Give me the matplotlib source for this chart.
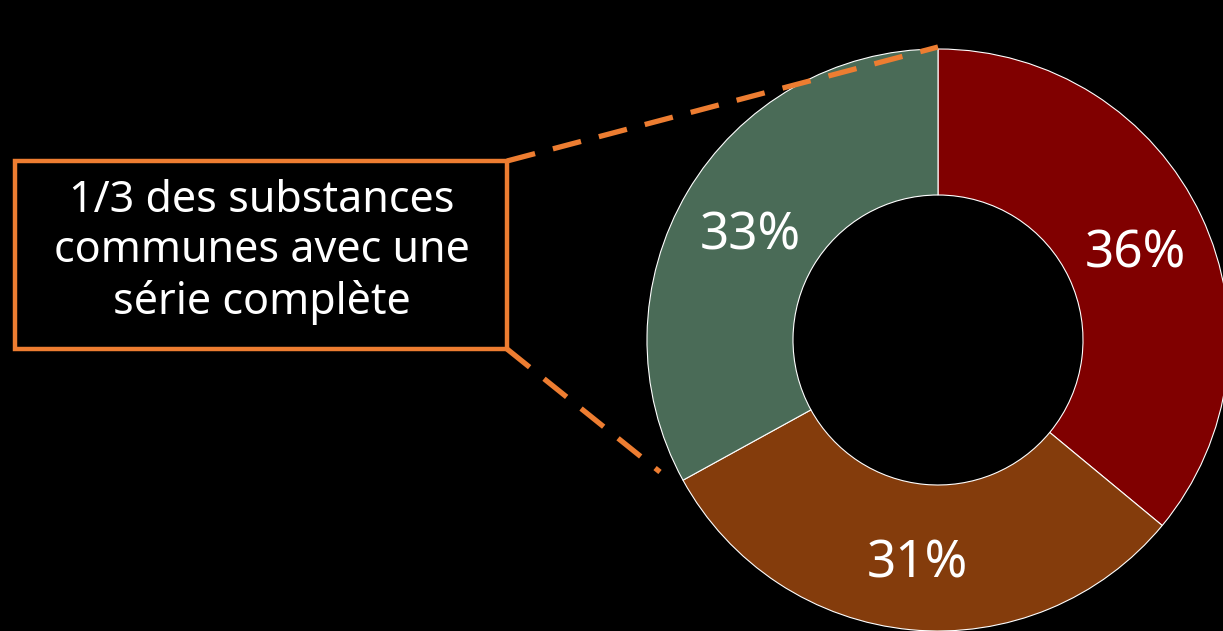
import numpy as np
import matplotlib.pyplot as plt
from matplotlib.patches import Rectangle

# share of substances per group, clockwise from 12 o'clock
shares = [36, 31, 33]
colors = ['#800000', '#843C0C', '#4A6B57']
callout = "1/3 des substances\ncommunes avec une\nsérie complète"

orange = '#ED7D31'

W, H = 1223, 631
fig = plt.figure(figsize=(W/100, H/100), dpi=100, facecolor='black')
ax = fig.add_axes([0, 0, 1, 1])
ax.set_facecolor('black')
plt.rcParams['font.family'] = ['Noto Sans', 'DejaVu Sans']

# donut, pixel coordinates with y going up
cx, cy = 938, H - 340
R = 291
wedges, texts, autotexts = ax.pie(
    shares, colors=colors, startangle=90, counterclock=False,
    center=(cx, cy), radius=R, frame=True,
    autopct=lambda p: '%d%%' % round(p), pctdistance=0.75,
    wedgeprops=dict(width=146, edgecolor='white', linewidth=0.8),
    textprops=dict(color='white', fontsize=37))
for t in autotexts:
    x, y = t.get_position()
    t.set_position((x, y - 7))

ax.set_xlim(0, W)
ax.set_ylim(0, H)
ax.set_aspect('equal')
ax.axis('off')

# callout box
x0, y0, x1, y1 = 15, 161, 507, 349
ax.add_patch(Rectangle((x0, H - y1), x1 - x0, y1 - y0, facecolor='none',
                       edgecolor=orange, linewidth=3.2, zorder=5))
ax.text((x0 + x1) / 2 + 1, H - 252, callout, ha='center', va='center',
        color='white', fontsize=31, linespacing=1.2, zorder=6)

# dashed leader lines towards the green slice
ax.plot([x1, 938], [H - y0, H - 47], color=orange, linewidth=3.8,
        dashes=(5.5, 3.5), zorder=7, solid_capstyle='butt')
ax.plot([x1, 660], [H - y1, H - 472], color=orange, linewidth=3.8,
        dashes=(5.5, 3.5), zorder=7, solid_capstyle='butt')

fig.savefig('out.png', dpi=100, facecolor='black')
